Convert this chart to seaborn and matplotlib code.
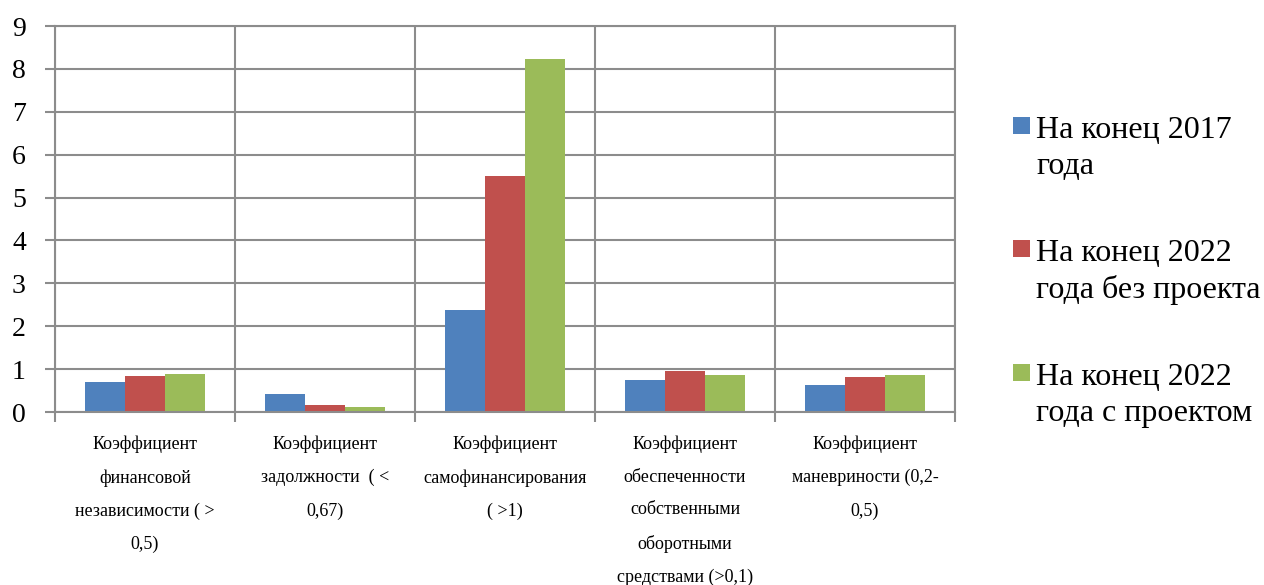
import matplotlib
matplotlib.use("Agg")
import matplotlib.pyplot as plt
from matplotlib.patches import Rectangle
import seaborn as sns
import pandas as pd

# Категории (показатели) и значения по трём сценариям
categories = [
    "Коэффициент\nфинансовой\nнезависимости ( >\n0,5)",
    "Коэффициент\nзадолжности  ( <\n0,67)",
    "Коэффициент\nсамофинансирования\n( >1)",
    "Коэффициент\nобеспеченности\nсобственными\nоборотными\nсредствами (>0,1)",
    "Коэффициент\nманевриности (0,2-\n0,5)",
]
series_names = [
    "На конец 2017\nгода",
    "На конец 2022\nгода без проекта",
    "На конец 2022\nгода с проектом",
]
values_2017 = [0.69, 0.41, 2.37, 0.74, 0.64]
values_2022_no_project = [0.85, 0.17, 5.51, 0.95, 0.82]
values_2022_project = [0.88, 0.11, 8.23, 0.87, 0.87]
colors = ["#4F81BD", "#C0504D", "#9BBB59"]
y_ticks = list(range(0, 10))

rows = []
for name, vals in zip(series_names, [values_2017, values_2022_no_project, values_2022_project]):
    for cat, v in zip(categories, vals):
        rows.append({"category": cat, "series": name, "value": v})
df = pd.DataFrame(rows)

sns.set_theme(style="white")
plt.rcParams["font.family"] = ["Liberation Serif", "DejaVu Serif"]

fig = plt.figure(figsize=(12.64, 5.85), dpi=100)
ax = fig.add_axes([55 / 1264, 1 - 412 / 585, 900 / 1264, 386 / 585])

sns.barplot(
    data=df, x="category", y="value", hue="series",
    order=categories, hue_order=series_names,
    palette=colors, width=2 / 3, gap=0, saturation=1,
    edgecolor="none", linewidth=0, ax=ax, legend=False,
)

grid_color = "#8c8c8c"
ax.set_xlim(-0.5, len(categories) - 0.5)
ax.set_ylim(0, 9)
ax.set_yticks(y_ticks)
ax.set_xticks([i - 0.5 for i in range(len(categories) + 1)], minor=True)
ax.set_axisbelow(True)
ax.grid(axis="y", which="major", color=grid_color, linewidth=1.5)
ax.grid(axis="x", which="minor", color=grid_color, linewidth=1.5)
ax.grid(axis="x", which="major", visible=False)
for side in ["left", "right", "top", "bottom"]:
    ax.spines[side].set_color(grid_color)
    ax.spines[side].set_linewidth(1.5)

ax.tick_params(axis="y", which="major", length=7, width=1.5, color=grid_color,
               direction="out", left=True, pad=14, labelsize=20, labelcolor="black")
ax.tick_params(axis="x", which="minor", length=7, width=1.5, color=grid_color,
               direction="out", bottom=True)
ax.tick_params(axis="x", which="major", length=0, pad=17, labelsize=13, labelcolor="black")
for lbl in ax.get_xticklabels():
    lbl.set_linespacing(2.2)
    lbl.set_verticalalignment("top")
ax.set_xlabel("")
ax.set_ylabel("")

# Легенда справа: квадратный маркер на уровне первой строки подписи
legend_top = [115, 238, 362]
for name, col, top in zip(series_names, colors, legend_top):
    fig.add_artist(Rectangle((1013 / 1264, 1 - (top + 19) / 585), 17 / 1264, 17 / 585,
                             transform=fig.transFigure, facecolor=col, edgecolor="none"))
    fig.text(1036 / 1264, 1 - (top + 1) / 585, name, fontsize=23, color="black",
             ha="left", va="top", linespacing=1.3)

fig.savefig("out.png", dpi=100, facecolor="white")
